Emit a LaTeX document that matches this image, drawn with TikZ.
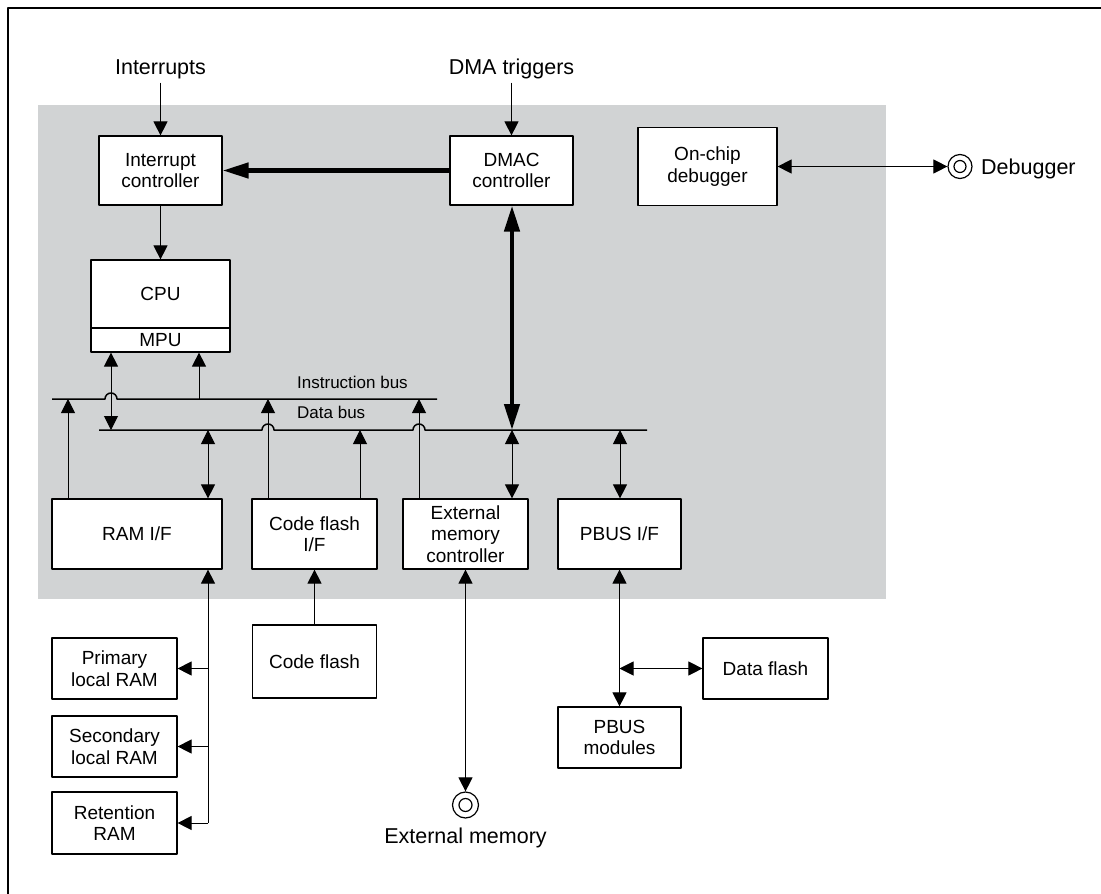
\documentclass[tikz,border=0pt]{standalone}
\usepackage{fontspec}
\setmainfont{Liberation Sans}
\usetikzlibrary{arrows.meta}
\definecolor{chipgray}{RGB}{209,211,212}
\begin{document}
\begin{tikzpicture}[x=1pt,y=-1pt,line join=round,>={Triangle[length=14pt,width=14pt]},
	boxfont/.style={font=\fontsize{19}{21.5}\selectfont},
	box/.style={draw,fill=white,line width=1.2pt,align=center,inner sep=0pt,boxfont},
	lbl/.style={inner sep=4pt,font=\fontsize{21.5}{24}\selectfont},
	buslbl/.style={inner sep=0pt,font=\fontsize{17}{20}\selectfont},
	bus/.style={line width=1.5pt},
	link/.style={line width=1pt},
	fatlink/.style={line width=4.5pt,>={Triangle[length=26pt,width=15pt]}},
	port/.style={draw,circle,line width=1.2pt,inner sep=0pt}]
	\useasboundingbox (0,0) rectangle (1101,894);
	\fill[white] (0,0) rectangle (1101,894);
	\fill[chipgray] (38,105) rectangle (886,599);
	\draw[line width=2.2pt] (8,896)--(8,8)--(1103,8);
	% blocks on the chip
	\node[box,minimum width=123pt,minimum height=69pt] (intc) at (160.5,170.5) {Interrupt\\controller};
	\node[box,minimum width=123pt,minimum height=69pt] (dmac) at (511.5,170.5) {DMAC\\controller};
	\node[box,minimum width=139pt,minimum height=78pt] (ocd) at (707.5,166.5) {On-chip\\debugger};
	\node[box,minimum width=139pt,minimum height=92pt] (cpu) at (160.5,306) {};
	\draw[line width=1.2pt] (cpu.west |- 0,328)--(cpu.east |- 0,328);
	\node[boxfont,inner sep=0pt] (cpuname) at (160.5,294) {CPU};
	\node[boxfont,inner sep=0pt] (mpu) at (160.5,340.5) {MPU};
	\node[box,minimum width=170pt,minimum height=70pt] (ramif) at (137,534) {RAM I/F};
	\node[box,minimum width=125pt,minimum height=70pt] (cfif) at (314.5,534) {Code flash\\I/F};
	\node[box,minimum width=125pt,minimum height=70pt] (emc) at (465.5,534) {External\\memory\\controller};
	\node[box,minimum width=123pt,minimum height=70pt] (pbif) at (619.5,534) {PBUS I/F};
	% blocks off the chip
	\node[box,minimum width=124pt,minimum height=73pt] (cflash) at (314.5,661.5) {Code flash};
	\node[box,minimum width=125pt,minimum height=61pt] (pram) at (114.5,668.5) {Primary\\local RAM};
	\node[box,minimum width=125pt,minimum height=61pt] (sram) at (114.5,746.5) {Secondary\\local RAM};
	\node[box,minimum width=125pt,minimum height=62pt] (rram) at (114.5,823) {Retention\\RAM};
	\node[box,minimum width=125pt,minimum height=61pt] (dflash) at (765.5,668.5) {Data flash};
	\node[box,minimum width=123pt,minimum height=61pt] (pbmod) at (619.5,737.5) {PBUS\\modules};
	% buses
	\coordinate (ibw) at (52,399); \coordinate (ibe) at (437,399);
	\coordinate (dbw) at (99,430); \coordinate (dbe) at (647,430);
	\draw[bus] (ibw)--(105,399) arc[start angle=180,end angle=360,radius=6]--(ibe);
	\draw[bus] (dbw)--(262,430) arc[start angle=180,end angle=360,radius=6]
		--(413,430) arc[start angle=180,end angle=360,radius=6]--(dbe);
	\node[buslbl,anchor=base west] (iblbl) at (297,388) {Instruction bus};
	\node[buslbl,anchor=base west] (dblbl) at (297,418) {Data bus};
	\coordinate (tRamI) at (68,399);  \coordinate (tCpuD) at (111,430);
	\coordinate (tCpuI) at (199,399); \coordinate (tRamD) at (208,430);
	\coordinate (tCfI) at (268,399);  \coordinate (tCfD) at (360,430);
	\coordinate (tEmcI) at (419,399); \coordinate (tDma) at (512,430);
	\coordinate (tPb) at (620,430);
	\draw[link,->] (tRamI |- ramif.north)--(tRamI);
	\draw[link,<->] (tCpuD |- cpu.south)--(tCpuD);
	\draw[link,->] (tCpuI)--(tCpuI |- cpu.south);
	\draw[link,<->] (tRamD)--(tRamD |- ramif.north);
	\draw[link,->] (tCfI |- cfif.north)--(tCfI);
	\draw[link,->] (tCfD |- cfif.north)--(tCfD);
	\draw[link,->] (tEmcI |- emc.north)--(tEmcI);
	\draw[link,<->] (tDma)--(tDma |- emc.north);
	\draw[link,<->] (tPb)--(tPb |- pbif.north);
	\draw[fatlink,<->] (tDma |- dmac.south)--(tDma);
	\draw[fatlink,->] (dmac.west)--(intc.east);
	\draw[link,->] (intc.south)--(cpu.north);
	% outside signals
	\node[lbl,anchor=base] (irq) at (160.5,74) {Interrupts};
	\node[lbl,anchor=base] (dmatrig) at (511.5,74) {DMA triggers};
	\draw[link,->] (irq.south)--(intc.north);
	\draw[link,->] (dmatrig.south)--(dmac.north);
	\node[port,minimum size=24pt] (dbg) at (960,166.5) {};
	\draw[line width=1.2pt] (dbg.center) circle (6);
	\node[lbl,anchor=base west] (dbglbl) at (977,174) {Debugger};
	\draw[link,<->] (ocd.east)--(dbg.west);
	\node[port,minimum size=26pt] (extmem) at (465.5,805) {};
	\draw[line width=1.2pt] (extmem.center) circle (6.5);
	\node[lbl,anchor=base] (extlbl) at (465.5,843) {External memory};
	\draw[link,<->] (emc.south)--(extmem.north);
	% local memories
	\coordinate (rb) at (208,823);
	\draw[link,->] (rb)--(rb |- ramif.south);
	\draw[link,->] (rb |- pram.east)--(pram.east);
	\draw[link,->] (rb |- sram.east)--(sram.east);
	\draw[link,->] (rb)--(rram.east);
	\draw[link,->] (cflash.north)--(cfif.south);
	\draw[link,<->] (pbif.south)--(pbmod.north);
	\draw[link,<->] (pbif.south |- dflash.west)--(dflash.west);
\end{tikzpicture}
\end{document}
